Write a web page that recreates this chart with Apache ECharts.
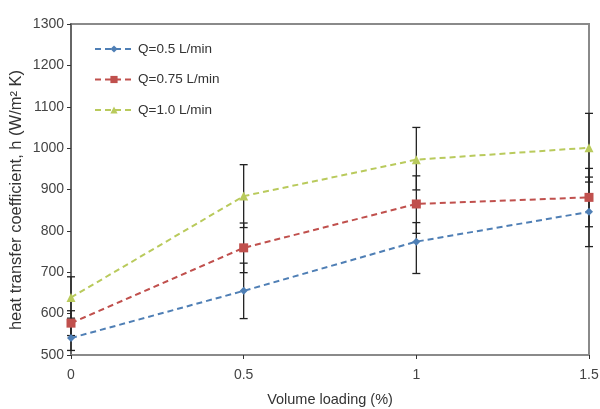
<!DOCTYPE html>
<html>
<head>
<meta charset="utf-8">
<script src="https://cdn.jsdelivr.net/npm/echarts@6/dist/echarts.min.js"></script>
<style>
  html, body { margin: 0; padding: 0; background: #fff; }
  #chart { width: 600px; height: 409px; }
</style>
</head>
<body>
<div id="chart"></div>
<script>
// volume loading (%)
var loading = [0, 0.5, 1, 1.5]
// heat transfer coefficient, mean values
var q05 = [541, 655, 774, 846]
var q075 = [577, 759, 865, 881]
var q10 = [639, 884, 972, 1001]
// error bar ends [low, high]
var q05Err = [[511, 571], [588, 722], [697, 820], [762, 930]]
var q075Err = [[547, 607], [699, 819], [794, 933], [810, 951]]
var q10Err = [[589, 689], [808, 960], [899, 1050], [918, 1084]]

var names = ['Q=0.5 L/min', 'Q=0.75 L/min', 'Q=1.0 L/min']
var colors = ['#4f7fb5', '#c0504d', '#b9ca5c']

function pairs (ys) {
  var d = []
  for (var i = 0; i < loading.length; i++) {
    d.push([loading[i], ys[i]])
  }
  return d
}

function errData (errs) {
  var d = []
  for (var i = 0; i < loading.length; i++) {
    d.push([loading[i], errs[i][0], errs[i][1]])
  }
  return d
}

function renderErr (params, api) {
  var lo = api.coord([api.value(0), api.value(1)])
  var hi = api.coord([api.value(0), api.value(2)])
  var w = 4
  var st = { stroke: '#222', lineWidth: 1.3 }
  return {
    type: 'group',
    children: [
      { type: 'line', shape: { x1: lo[0], y1: lo[1], x2: hi[0], y2: hi[1] }, style: st },
      { type: 'line', shape: { x1: lo[0] - w, y1: lo[1], x2: lo[0] + w, y2: lo[1] }, style: st },
      { type: 'line', shape: { x1: hi[0] - w, y1: hi[1], x2: hi[0] + w, y2: hi[1] }, style: st }
    ]
  }
}

function lineSeries (name, ys, color, symbol, size) {
  return {
    name: name,
    type: 'line',
    data: pairs(ys),
    symbol: symbol,
    symbolSize: size,
    z: 3,
    itemStyle: { color: color },
    lineStyle: { color: color, width: 2, type: [6, 4] }
  }
}

function errSeries (errs) {
  return {
    type: 'custom',
    renderItem: renderErr,
    data: errData(errs),
    z: 2,
    silent: true,
    encode: { x: 0, y: [1, 2] }
  }
}

var chart = echarts.init(document.getElementById('chart'))
var option = {
  animation: false,
  textStyle: { fontFamily: 'Liberation Sans, Arial, sans-serif' },
  grid: {
    left: 71, right: 11, top: 24, bottom: 54,
    outerBoundsMode: 'none',
    show: true, borderColor: '#8a8a8a', borderWidth: 2
  },
  graphic: [{
    type: 'text',
    x: 16,
    y: 200,
    rotation: Math.PI / 2,
    style: {
      text: 'heat transfer coefficient, h (W/m\u00b2 K)',
      fontSize: 16.5,
      fontFamily: 'Liberation Sans, Arial, sans-serif',
      fill: '#333',
      align: 'center',
      verticalAlign: 'middle'
    }
  }],
  legend: {
    orient: 'vertical',
    left: 89,
    top: 37,
    itemGap: 16.5,
    itemWidth: 38,
    itemHeight: 9,
    textStyle: { fontSize: 13.5, color: '#333' },
    data: names
  },
  xAxis: {
    type: 'value',
    min: 0,
    max: 1.5,
    interval: 0.5,
    name: 'Volume loading (%)',
    nameLocation: 'middle',
    nameGap: 37,
    nameTextStyle: { fontSize: 14.5, color: '#333' },
    axisLine: { lineStyle: { color: '#8a8a8a', width: 2 } },
    axisTick: { inside: false, length: 4, lineStyle: { color: '#333' } },
    axisLabel: { fontSize: 14, color: '#444', margin: 13 },
    splitLine: { show: false }
  },
  yAxis: {
    type: 'value',
    min: 500,
    max: 1300,
    interval: 100,
    axisLine: { show: true, lineStyle: { color: '#666', width: 2 } },
    axisTick: { show: true, length: 4, lineStyle: { color: '#333' } },
    axisLabel: { fontSize: 14, color: '#444', margin: 7, formatter: function (v) { return String(v) } },
    splitLine: { show: false }
  },
  series: [
    errSeries(q05Err),
    errSeries(q075Err),
    errSeries(q10Err),
    lineSeries(names[0], q05, colors[0], 'diamond', 8),
    lineSeries(names[1], q075, colors[1], 'rect', 9),
    lineSeries(names[2], q10, colors[2], 'triangle', 9)
  ]
}
chart.setOption(option)
</script>
</body>
</html>
